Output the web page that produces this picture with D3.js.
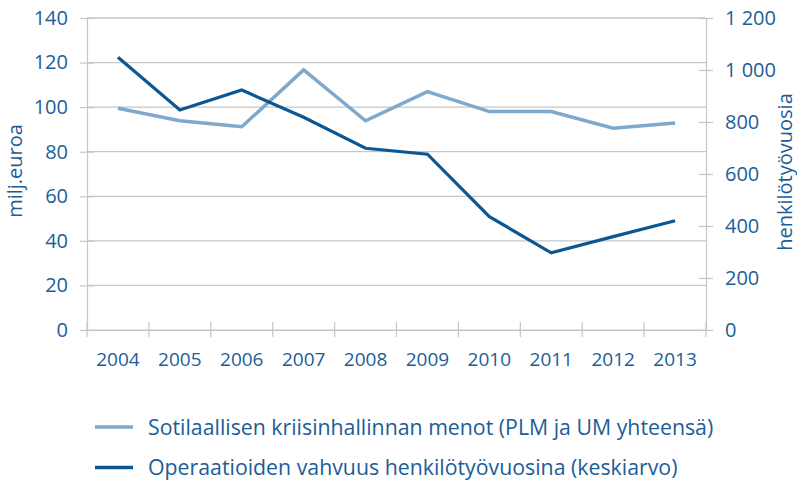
<!DOCTYPE html>
<html>
<head>
<meta charset="utf-8">
<script src="https://cdn.jsdelivr.net/npm/d3@7"></script>
<style>
  body { margin: 0; background: #fff; }
  text { font-family: 'Open Sans', sans-serif; fill: #1c5d98; }
</style>
</head>
<body>
<div id="chart"></div>
<script>
// LINE CHART, two y axes
var w = 797;
var h = 484;

// Data
var years = ['2004', '2005', '2006', '2007', '2008', '2009', '2010', '2011', '2012', '2013'];
var menot = [99.5, 93.9, 91.2, 116.7, 93.9, 107.0, 98.0, 98.0, 90.5, 92.9];        // milj. euroa
var vahvuus = [1049, 846, 923, 818, 699, 676, 436, 297, 359, 420];              // henkilötyövuosia
var leftTicks = [0, 20, 40, 60, 80, 100, 120, 140];
var rightTicks = [0, 200, 400, 600, 800, 1000, 1200];
var legendLabels = [
	'Sotilaallisen kriisinhallinnan menot (PLM ja UM yhteensä)',
	'Operaatioiden vahvuus henkilötyövuosina (keskiarvo)'
];

var colLight = '#7ea9cc';
var colDark = '#0b5794';
var colGrid = '#c6c6c6';

var plot = { left: 87, right: 706, top: 18, bottom: 330 };

var svg = d3.select('#chart').append('svg')
	.attr('width', w)
	.attr('height', h);

var x = d3.scaleBand()
	.domain(years)
	.range([plot.left, plot.right]);

var yL = d3.scaleLinear().domain([0, 140]).range([plot.bottom, plot.top]);
var yR = d3.scaleLinear().domain([0, 1200]).range([plot.bottom, plot.top]);

// gridlines
svg.selectAll('line.grid')
	.data(leftTicks)
	.enter()
	.append('line')
	.attr('class', 'grid')
	.attr('x1', plot.left)
	.attr('x2', plot.right)
	.attr('y1', function (d) { return yL(d); })
	.attr('y2', function (d) { return yL(d); })
	.attr('stroke', colGrid)
	.attr('stroke-width', 1.2);

// left axis
var axL = svg.append('g')
	.attr('transform', 'translate(' + plot.left + ',0)')
	.call(d3.axisLeft(yL).tickValues(leftTicks).tickSize(7).tickPadding(12));
axL.selectAll('.tick line').attr('x2', 7).attr('x1', -7);

// right axis
var axR = svg.append('g')
	.attr('transform', 'translate(' + plot.right + ',0)')
	.call(d3.axisRight(yR).tickValues(rightTicks)
		.tickSize(7).tickPadding(12)
		.tickFormat(function (d) { return d3.format(',')(d).replace(',', ' '); }));
axR.selectAll('.tick line').attr('x1', -7).attr('x2', 7);

// bottom axis, ticks on band edges
var axB = svg.append('g')
	.attr('transform', 'translate(0,' + plot.bottom + ')')
	.call(d3.axisBottom(x).tickSize(0).tickPadding(23));
axB.selectAll('.tick-edge')
	.data(years.concat(['end']))
	.enter()
	.append('line')
	.attr('x1', function (d, i) { return plot.left + i * x.bandwidth(); })
	.attr('x2', function (d, i) { return plot.left + i * x.bandwidth(); })
	.attr('y1', -8)
	.attr('y2', 7)
	.attr('stroke', colGrid)
	.attr('stroke-width', 1.2);

[axL, axR, axB].forEach(function (ax) {
	ax.select('.domain').attr('stroke', colGrid).attr('stroke-width', 1.2);
	ax.selectAll('.tick line').attr('stroke', colGrid).attr('stroke-width', 1.2);
	ax.selectAll('.tick text')
		.attr('font-size', '20px')
		.attr('font-family', "'Open Sans', sans-serif")
		.attr('fill', '#1c5d98');
});
axB.selectAll('.tick text').attr('font-size', '19px');

// top border
svg.append('line')
	.attr('x1', plot.left).attr('x2', plot.right)
	.attr('y1', plot.top).attr('y2', plot.top)
	.attr('stroke', colGrid).attr('stroke-width', 1.2);

// lines
var lineL = d3.line()
	.x(function (d, i) { return x(years[i]) + x.bandwidth() / 2; })
	.y(function (d) { return yL(d); });

var lineR = d3.line()
	.x(function (d, i) { return x(years[i]) + x.bandwidth() / 2; })
	.y(function (d) { return yR(d); });

svg.append('path')
	.datum(menot)
	.attr('d', lineL)
	.attr('fill', 'none')
	.attr('stroke', colLight)
	.attr('stroke-width', 3.5);

svg.append('path')
	.datum(vahvuus)
	.attr('d', lineR)
	.attr('fill', 'none')
	.attr('stroke', colDark)
	.attr('stroke-width', 3.2);

// axis titles
svg.append('text')
	.text('milj.euroa')
	.attr('transform', 'translate(22,171) rotate(-90)')
	.attr('text-anchor', 'middle')
	.attr('font-size', '20px');

svg.append('text')
	.text('henkilötyövuosia')
	.attr('transform', 'translate(792,172) rotate(-90)')
	.attr('text-anchor', 'middle')
	.attr('font-size', '20px');

// legend
var legend = svg.selectAll('g.legend')
	.data(legendLabels)
	.enter()
	.append('g')
	.attr('class', 'legend')
	.attr('transform', function (d, i) { return 'translate(95,' + (427 + i * 40.5) + ')'; });

legend.append('line')
	.attr('x1', 0).attr('x2', 38)
	.attr('stroke', function (d, i) { return i == 0 ? colLight : colDark; })
	.attr('stroke-width', 3.5);

legend.append('text')
	.text(function (d) { return d; })
	.attr('x', 53)
	.attr('y', 7.5)
	.attr('font-size', '21.3px');
</script>
</body>
</html>
